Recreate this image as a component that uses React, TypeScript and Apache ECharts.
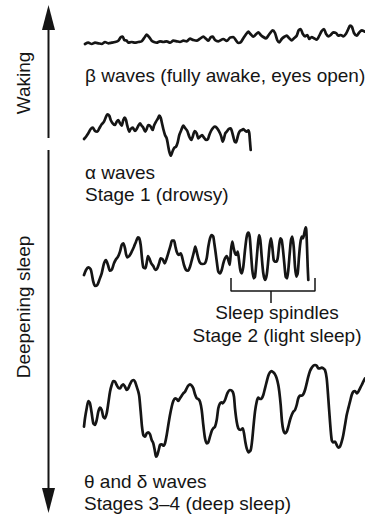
import React, { useEffect, useRef } from "react";
import * as echarts from "echarts";

// Beta waves (fully awake): [time, amplitude]
const betaWave: number[][] = [
  [2,6],[5.3,7.3],[8.7,6],[12,7.3],[15.3,6.7],[18.7,6],[22,8],[25.3,6.7],[28.7,7.3],[32,8],[35.3,9.3],[37.7,12.7],[39.7,13.3],[41.3,10],[43.7,9.3],[45.3,7.3],[48.7,8],[52,7.3],[55.3,8],[58.7,8.7],[62,13.3],[63.7,15.3],[66.3,12.7],[68.7,9.3],[71,8],[73.7,7.3],[77,8.7],[80.3,8],[83.7,8.7],[87,7.3],[90.3,9.3],[93.7,8.7],[97,8],[100.3,9.3],[103.7,8.7],[107,11.3],[110.3,10],[113.7,9.3],[117,11.3],[120.3,13.3],[123,11.3],[125.3,9.3],[127.7,12.7],[129.7,13.3],[132,10],[135.3,8.7],[140.3,11],[143.7,9],[147,12.3],[150.3,13],[153,9.7],[155.3,7],[157.7,7.7],[160.3,11.7],[163,15.7],[165.3,18.3],[167.7,15.7],[170.3,13.3],[173,15.7],[175.3,17.7],[177.7,15],[180.3,13],[183,11.7],[185.3,14.3],[187.7,17.7],[189.7,19.7],[192,17],[194.3,9.7],[196.3,7.7],[198.7,11],[201,13],[203.7,14.3],[206.3,11.7],[208.7,9.7],[211,11.7],[213.7,14.3],[215.7,19.7],[217.7,21],[219.7,16.3],[222,13.7],[224.3,15],[226.3,11],[228.7,13],[231,11.7],[233.7,10.3],[236.3,14.3],[238.7,19],[241,21],[243,16.3],[245.3,13.7],[247.7,15],[250.3,17.7],[253,17],[255.3,14.3],[257.7,15],[260.3,13.7],[263,16.3],[265.3,21],[267,24.3],[269,23],[271,17],[273.7,14.3],[276.3,17.7],[278.7,19.7],[282,18.3]
];

// Alpha waves (stage 1, drowsy)
const alphaWave: number[][] = [
  [1,21],[3,23.3],[5.3,26.7],[7.7,31],[9.7,32.3],[12,29],[14.3,28.3],[16.3,31.7],[18.7,35.7],[21,38.3],[23,43.3],[24.3,45.7],[26.3,44.3],[27.7,40],[29.7,36.7],[32,35],[33.7,38.3],[35.3,40],[37,36.7],[38.7,34.3],[40.3,40],[41.7,42.3],[43,40],[44.3,34.3],[46.3,28.3],[47.7,31],[49.7,32.3],[52,29],[53.7,31],[55.3,34.3],[57,36.7],[58.7,34.3],[60.3,32.3],[62.3,28.3],[63.7,31],[65.3,35],[67,34.3],[68.3,32.3],[69.7,30],[71,34.3],[73,38.3],[75,41.7],[76.3,44.3],[77.7,42.3],[79,36.7],[80.3,31],[82,25],[83.7,21.7],[85,15],[86.3,8.3],[87.7,4.3],[89.7,9],[91.3,12.3],[93,13.3],[94.7,17.7],[96.3,25],[98.3,30],[100.3,34.3],[102.3,31.7],[104.3,29],[106.3,23.3],[108.3,20],[109.7,23.3],[111.7,29],[113.7,26.7],[115.3,21.7],[117,23.3],[119,25],[121,22.3],[123,20],[125,21],[126.3,25],[128,29],[129.7,31.7],[131.7,33.3],[133.7,32.3],[135.3,30],[137,26.7],[138.3,23.3],[139.7,18.3],[141,21.7],[142.3,26.7],[143.7,28.3],[145.7,31],[147.7,31.7],[149,28.3],[150.3,23.3],[151.7,18.3],[153,17.7],[154.3,21.7],[155.7,26.7],[157,29],[159,30],[160.3,31],[161.7,29.7],[163.7,28.3],[165.3,29.7],[166.3,26.7],[167,18.3],[167.7,10]
];

// Stage 2 (light sleep) with sleep spindles
const stage2Wave: number[][] = [
  [1,20],[3,25],[5.3,27.7],[7.7,25.7],[9,20],[10.3,13.3],[12,9],[14.3,10],[16.3,15],[18.7,21.7],[21,31.7],[23,35],[25,30],[27,24.3],[29,25.7],[31,31.7],[33,35.7],[35,38.3],[37,43.3],[38.7,50],[40.3,51.7],[42,46.7],[43,41],[44.3,37.7],[46.3,39],[48.7,43.3],[51,48.3],[53,53.3],[55,57.7],[56.3,56.7],[57.7,50],[59,36.7],[60.3,27.7],[62.3,26.7],[63.7,32.3],[65,39],[66.3,36.7],[68.3,31.7],[70.3,29],[72.3,25],[74.3,26.7],[76.3,32.3],[77.7,36.7],[79.7,35.7],[81.7,31.7],[83.7,36.7],[85.7,43.3],[87.7,50],[89,54.3],[91,54.3],[92.3,49],[93.7,43.3],[95.7,40],[97.7,41.7],[99,38.3],[101,30],[103,25],[105,24.3],[107,28.3],[109,35.7],[111,43.3],[112.3,48.3],[113.7,43.3],[115.3,36.7],[117,32.3],[119.3,31],[122,31.7],[123.7,36.7],[125.3,48.3],[127,56.7],[128.7,60],[130.3,58.3],[131.3,51.7],[132.7,41.7],[134,31.7],[135.3,23.3],[137,21.7],[138.7,25],[140.3,31.7],[142,36.7],[143.7,39],[145.3,35],[146.7,30],[148,45],[149.3,53.3],[150.7,46.7],[152,41.7],[153.3,40],[154.7,43.3],[156,35],[157.3,25],[158.7,21.7],[160.3,28.3],[162,45],[163.7,58.3],[165.3,62.3],[166.7,58.3],[168,41.7],[169.3,25],[170.7,16.7],[172,18.3],[173.3,31.7],[174.7,48.3],[176,60],[177.3,55],[178.7,38.3],[180.3,21.7],[182,15],[183.7,20],[185.3,35],[186.7,50],[188,56.7],[189.3,48.3],[190.7,35],[192,33.3],[193.3,33.3],[194.7,36.7],[196,48.3],[197.3,56.7],[198.7,55],[200,45],[201.3,31.7],[202.7,18.3],[204,16.7],[205.3,25],[206.7,41.7],[208,55],[209.3,58.3],[210.7,48.3],[212,28.3],[213.3,18.3],[214.7,21.7],[216,38.3],[217.3,51.7],[218.7,58.3],[220,56.7],[221.3,61.7],[222.7,67.7],[223.3,65],[224,48.3],[224.7,28.3],[225.3,15]
];

// Spindle bracket (annotation in stage-2 units)
const bracketLine: number[][] = [[148,17],[148,4],[232,4],[232,17]];
const bracketTick: number[][] = [[188,4],[188,-8]];

// Theta and delta waves (stages 3-4, deep sleep)
const deltaWave: number[][] = [
  [1,38.3],[2,46.7],[3.7,56.7],[5.3,64],[7,61.7],[8.7,51.7],[10.3,41.7],[12,40],[13.7,45],[15.3,53.3],[17,57.3],[18.7,55],[20.3,48.3],[22,46.7],[23.7,51.7],[25.3,61.7],[27,73.3],[28.7,80],[30.3,84],[32,83.3],[33.7,80],[35.3,77.3],[37,76.7],[38.7,79.3],[40.3,80.7],[42,78.3],[43.7,75],[45.3,76.7],[47,80.7],[48.7,84],[50.3,85],[52,83.3],[53.7,78.3],[55.3,73.3],[56.3,68.3],[57.7,53.3],[59,38.3],[60.3,30],[62,28.3],[63.7,31.7],[65.3,32.7],[67,30.7],[68.7,25],[70.3,21.7],[72,13.3],[73,8.3],[74.3,10],[75.7,15],[77,20],[78.7,20.7],[80.3,19.3],[82,21.7],[83.7,30],[85.3,40],[87,50],[88.7,58.3],[90.3,64],[92,66.7],[93.7,66],[95.3,64],[97,66.7],[98.7,69.3],[100.3,71.7],[102,73.3],[103.7,76.7],[105.3,79.3],[107,80.7],[108.7,79.3],[110.3,76.7],[112,70.7],[113.7,66.7],[115.3,66],[117,63.3],[118.7,55],[120.3,40],[122,26.7],[123.7,21.7],[125.3,22.7],[127,28.3],[128.7,34],[130.3,36.7],[132,38.3],[133.7,45],[135.3,56.7],[137,61.7],[138.7,62.7],[139.7,61.7],[142,65],[144.3,71.7],[147,75],[149.7,73.3],[151,68.3],[152,56.7],[153.7,43.3],[155.3,36.7],[157.7,35],[159.7,36.7],[161,31.7],[162.3,23.3],[163.7,16.7],[165.7,12.7],[167.7,15],[169,23.3],[170.3,36.7],[172,53.3],[173.7,63.3],[175.3,67.3],[177,66],[178.7,66.7],[180.3,70],[182,76.7],[183.7,83.3],[185.3,89.3],[187,92.7],[188.7,94],[190.3,92.7],[192,90.7],[193.7,86.7],[195.3,80],[196.3,73.3],[197.7,60],[199,43.3],[200.3,35],[202,31.7],[203.7,33.3],[205.3,38.3],[207,45],[208.7,50],[210.3,53.3],[212,55],[213.7,60],[215.3,66.7],[217,69.3],[218.7,69.3],[220.3,70.7],[222,75],[223.7,81.7],[225.3,88.3],[227,94],[228.7,97.3],[230.3,99.3],[232,100],[233.7,99.3],[235.3,96.7],[237,96.7],[238.7,97.3],[240.3,96.7],[242,95],[243.7,86.7],[245.3,66.7],[247,43.3],[248.7,25],[250.3,22.7],[252,23.3],[253.7,20],[255.3,17.3],[257,18.3],[258.7,23.3],[260.3,30],[262,40],[263.7,50],[265.3,56.7],[267,63.3],[268.7,70],[270.3,73.3],[272,74],[273.7,71.7],[275.3,73.3],[277,76.7],[278.7,80],[280.3,83.3],[282,86.7]
];

const labels = {
  beta: "β waves (fully awake, eyes open)",
  alpha: "α waves",
  stage1: "Stage 1 (drowsy)",
  spindles: "Sleep spindles",
  stage2: "Stage 2 (light sleep)",
  delta: "θ and δ waves",
  stage34: "Stages 3–4 (deep sleep)",
  waking: "Waking",
  deepening: "Deepening sleep",
};

const FONT = '"Liberation Sans", Arial, Helvetica, sans-serif';
const INK = "#151515";

export default function App() {
  const ref = useRef<HTMLDivElement>(null);
  useEffect(() => {
    if (!ref.current) return;
    const chart = echarts.init(ref.current, null, { renderer: "svg" });
    const grids = [
      { left: 83, top: 20, width: 282, height: 30 },
      { left: 83, top: 105, width: 200, height: 55 },
      { left: 83, top: 220, width: 282, height: 90 },
      { left: 83, top: 355, width: 282, height: 110 },
    ];
    const xr = [282, 200, 282, 282];
    const yr = [[0, 30], [0, 55], [-15, 75], [0, 110]];
    const hidden = {
      axisLine: { show: false },
      axisTick: { show: false },
      axisLabel: { show: false },
      splitLine: { show: false },
    };
    const wave = (data: number[][], gi: number) => ({
      type: "line",
      xAxisIndex: gi,
      yAxisIndex: gi,
      data,
      showSymbol: false,
      smooth: 0.25,
      clip: false,
      lineStyle: { color: INK, width: 2.7, cap: "round", join: "round" },
      silent: true,
    });
    const txt = (text: string, x: number, y: number, align = "left", rotation = 0) => ({
      type: "text",
      x,
      y,
      rotation,
      style: {
        text,
        fill: INK,
        font: `19px ${FONT}`,
        align,
        verticalAlign: "middle",
      },
    });
    chart.setOption({
      animation: false,
      backgroundColor: "#ffffff",
      grid: grids.map((g) => ({ ...g, containLabel: false })),
      xAxis: xr.map((m, i) => ({ type: "value", gridIndex: i, min: 0, max: m, ...hidden })),
      yAxis: yr.map((r, i) => ({ type: "value", gridIndex: i, min: r[0], max: r[1], ...hidden })),
      series: [
        wave(betaWave, 0),
        wave(alphaWave, 1),
        wave(stage2Wave, 2),
        wave(deltaWave, 3),
        {
          type: "line", xAxisIndex: 2, yAxisIndex: 2, data: bracketLine, showSymbol: false,
          clip: false, lineStyle: { color: INK, width: 1.5 }, silent: true,
        },
        {
          type: "line", xAxisIndex: 2, yAxisIndex: 2, data: bracketTick, showSymbol: false,
          clip: false, lineStyle: { color: INK, width: 1.5 }, silent: true,
        },
      ],
      graphic: [
        { type: "line", shape: { x1: 48.5, y1: 28, x2: 48.5, y2: 138 }, style: { stroke: INK, lineWidth: 2 } },
        { type: "polygon", shape: { points: [[48.5, 5], [42, 30], [55, 30]] }, style: { fill: INK } },
        { type: "line", shape: { x1: 48.5, y1: 150, x2: 48.5, y2: 490 }, style: { stroke: INK, lineWidth: 2 } },
        { type: "polygon", shape: { points: [[48.5, 513], [42, 488], [55, 488]] }, style: { fill: INK } },
        txt(labels.waking, 23, 83, "center", Math.PI / 2),
        txt(labels.deepening, 23, 307, "center", Math.PI / 2),
        txt(labels.beta, 85, 75),
        txt(labels.alpha, 85, 172),
        txt(labels.stage1, 85, 194.5),
        txt(labels.spindles, 277, 312.5, "center"),
        txt(labels.stage2, 277, 335.5, "center"),
        txt(labels.delta, 84, 481),
        txt(labels.stage34, 84, 503),
      ],
    });
    return () => chart.dispose();
  }, []);
  return (
    <div
      ref={ref}
      style={{ position: "fixed", left: 0, top: 0, width: 365, height: 515, background: "#fff" }}
    />
  );
}
